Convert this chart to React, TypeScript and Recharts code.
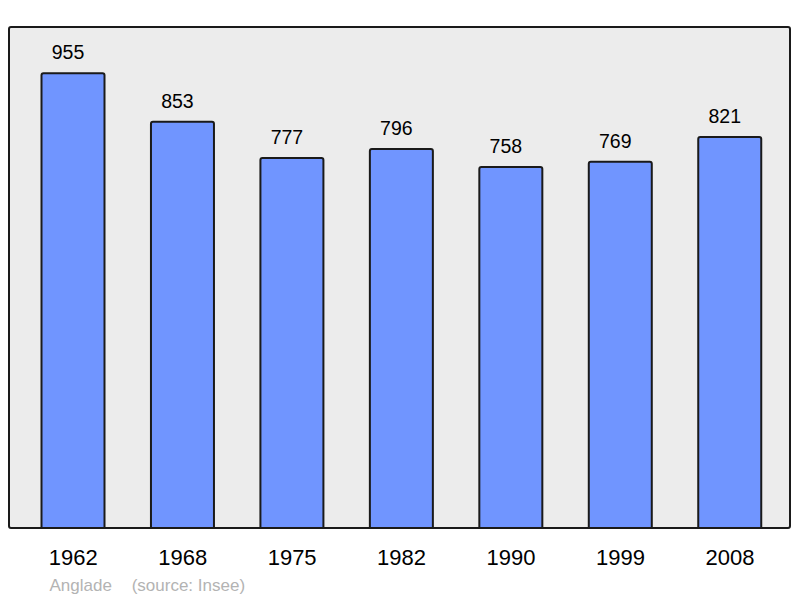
import React from "react";
import { BarChart, Bar, XAxis, YAxis, LabelList } from "recharts";

const years = ["1962", "1968", "1975", "1982", "1990", "1999", "2008"];
const population = [955, 853, 777, 796, 758, 769, 821];
const commune = "Anglade";
const source = "(source: Insee)";

const data = years.map((y, i) => ({ year: y, pop: population[i] }));

const FONT = '"Liberation Sans", Arial, sans-serif';

const ValueLabel = (props: any) => {
  const { x, y, width, value } = props;
  return (
    <text
      x={Number(x) + Number(width) / 2 - 5}
      y={Number(y) - 14}
      textAnchor="middle"
      fontSize={19.5}
      fill="#000"
      fontFamily={FONT}
    >
      {value}
    </text>
  );
};

export default function App() {
  return (
    <div style={{ position: "absolute", left: 0, top: 0, width: 800, height: 598, background: "#fff", fontFamily: FONT }}>
      <div
        style={{
          position: "absolute",
          left: 8,
          top: 26,
          width: 783,
          height: 503,
          boxSizing: "border-box",
          border: "2px solid #1a1a1a",
          borderRadius: 3,
          background: "#ececec",
        }}
      />
      <div style={{ position: "absolute", left: 0, top: 0 }}>
        <BarChart
          width={800}
          height={598}
          data={data}
          margin={{ top: 28, bottom: 40, left: 18.5, right: 15.3 }}
        >
          <XAxis
            dataKey="year"
            height={30}
            axisLine={false}
            tickLine={false}
            tickSize={0}
            tickMargin={21}
            interval={0}
            tick={{ fontSize: 22, fill: "#000", fontFamily: FONT }}
          />
          <YAxis hide domain={[0, 1050]} />
          <Bar
            dataKey="pop"
            barSize={63}
            fill="#7095ff"
            stroke="#1a1a1a"
            strokeWidth={2}
            radius={[2, 2, 0, 0]}
            isAnimationActive={false}
          >
            <LabelList dataKey="pop" content={ValueLabel} />
          </Bar>
        </BarChart>
      </div>
      <div style={{ position: "absolute", left: 49.5, top: 576.5, fontSize: 17, lineHeight: 1, color: "#b3b3b3", whiteSpace: "pre" }}>
        {commune}
      </div>
      <div style={{ position: "absolute", left: 131.7, top: 576.5, fontSize: 17, lineHeight: 1, color: "#b3b3b3", whiteSpace: "pre" }}>
        {source}
      </div>
    </div>
  );
}
